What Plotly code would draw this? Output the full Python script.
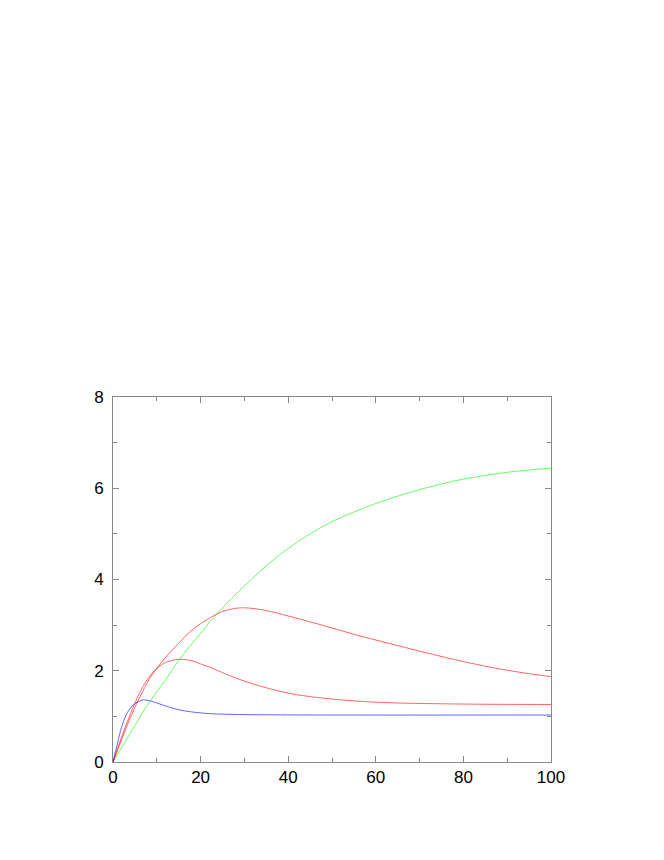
import plotly.graph_objects as go

# values
green_x = [0, 5, 8.5, 12, 15, 20, 24.4, 30, 36.6, 40, 45, 50, 55, 61, 70, 80, 90, 100]
green_y = [0, 0.8, 1.34, 1.8, 2.23, 2.82, 3.32, 3.86, 4.43, 4.68, 5.0, 5.27, 5.48, 5.7, 5.97, 6.2, 6.35, 6.44]

red_hi_x = [0, 2, 4, 6, 8.5, 10, 12.5, 15, 17.5, 20, 22.5, 25, 27.5, 30, 35, 40, 47, 55, 63, 70, 76, 85, 92, 100]
red_hi_y = [0, 0.5, 0.98, 1.4, 1.85, 2.05, 2.35, 2.6, 2.85, 3.03, 3.18, 3.3, 3.36, 3.38, 3.32, 3.2, 3.02, 2.8, 2.6, 2.43, 2.29, 2.1, 1.98, 1.87]

red_lo_x = [0, 2, 4, 6, 8, 10, 12, 14, 15.7, 18, 20, 22, 24, 27, 32, 40, 47, 55, 63, 80, 100]
red_lo_y = [0, 0.56, 1.06, 1.5, 1.83, 2.05, 2.18, 2.24, 2.25, 2.22, 2.15, 2.08, 2.0, 1.88, 1.71, 1.51, 1.41, 1.34, 1.3, 1.27, 1.26]

blue_x = [0, 1, 2, 3, 4.3, 5.5, 6.9, 8.5, 10.7, 12, 15.3, 20.6, 26.7, 35, 50, 100]
blue_y = [0, 0.4, 0.78, 1.03, 1.22, 1.31, 1.36, 1.34, 1.27, 1.23, 1.14, 1.07, 1.045, 1.035, 1.03, 1.03]

series = [
    (green_x, green_y, "#00ff00"),
    (red_hi_x, red_hi_y, "#ff0000"),
    (red_lo_x, red_lo_y, "#ff0000"),
    (blue_x, blue_y, "#0000ff"),
]

fig = go.Figure()
for xs, ys, color in series:
    fig.add_trace(
        go.Scatter(
            x=xs,
            y=ys,
            mode="lines",
            line=dict(color=color, width=1, shape="spline", smoothing=1.0),
            opacity=0.6,
            showlegend=False,
            hoverinfo="skip",
        )
    )

axis_style = dict(
    showgrid=False,
    zeroline=False,
    showline=True,
    linecolor="#888888",
    linewidth=1,
    mirror="ticks",
    ticks="inside",
    ticklen=6,
    tickcolor="#888888",
    tickfont=dict(family="Liberation Sans, Arial, sans-serif", size=17, color="black"),
)

fig.update_xaxes(
    range=[0, 100],
    dtick=20,
    minor=dict(ticks="inside", dtick=10, ticklen=4, tickcolor="#888888"),
    **axis_style,
)
fig.update_yaxes(
    range=[0, 8],
    dtick=2,
    ticklabelstandoff=5,
    minor=dict(ticks="inside", dtick=1, ticklen=4, tickcolor="#888888"),
    **axis_style,
)

# the page adds an 8px body margin, so shift the plot area back by that much
fig.update_layout(
    width=664,
    height=860,
    margin=dict(l=105, r=121, t=389, b=106),
    plot_bgcolor="white",
    paper_bgcolor="white",
)

fig.write_html("out.html")
